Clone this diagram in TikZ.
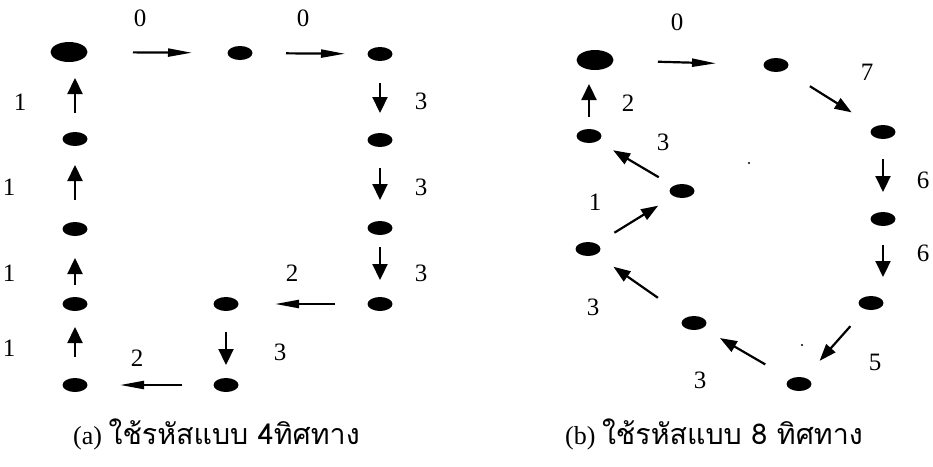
\documentclass[tikz,border=0pt]{standalone}
\usepackage{fontspec}
\setmainfont{Liberation Serif}
\newfontfamily\thaifont[Script=Thai,Scale=1.1]{Loma}
\usetikzlibrary{arrows.meta,shapes.geometric}
\begin{document}
\begin{tikzpicture}[x=1pt,y=-1pt,
  dot/.style={ellipse, fill=black, inner sep=0pt, minimum width=25pt, minimum height=14pt},
  bigdot/.style={dot, minimum width=37pt, minimum height=20pt},
  num/.style={font=\fontsize{25}{25}\selectfont, inner sep=0pt},
  captext/.style={font=\fontsize{26}{26}\selectfont, inner sep=0pt, anchor=west},
  harr/.style={line width=2.2pt, -{Triangle[length=24pt,width=8pt]}},
  varr/.style={line width=2.2pt, -{Triangle[length=16pt,width=15pt]}},
  darr/.style={line width=2.2pt, -{Triangle[length=17pt,width=12pt]}}]
\useasboundingbox (0,0) rectangle (933,466);

% ---------- (a) 4-direction chain code ----------
\node[bigdot] (a1) at (69,52) {};
\node[dot] (a2)  at (240,53) {};
\node[dot] (a3)  at (380,54) {};
\node[dot] (a4)  at (380,140) {};
\node[dot] (a5)  at (380,228) {};
\node[dot] (a6)  at (380,304) {};
\node[dot] (a7)  at (226,304) {};
\node[dot] (a8)  at (226,385) {};
\node[dot] (a9)  at (75,385) {};
\node[dot] (a10) at (75,304) {};
\node[dot] (a11) at (75,229) {};
\node[dot] (a12) at (75,139) {};

\draw[harr, shorten <=64pt, shorten >=48pt] (a1.center) -- (a2.center);
\draw[harr, shorten <=46pt, shorten >=35pt] (a2.center) -- (a3.center);
\draw[varr, shorten <=29pt, shorten >=27pt] (a3.center) -- (a4.center);
\draw[varr, shorten <=28pt, shorten >=28pt] (a4.center) -- (a5.center);
\draw[varr, shorten <=19pt, shorten >=24pt] (a5.center) -- (a6.center);
\draw[harr, shorten <=45pt, shorten >=49pt] (a6.center) -- (a7.center);
\draw[varr, shorten <=28pt, shorten >=20pt] (a7.center) -- (a8.center);
\draw[harr, shorten <=44pt, shorten >=45pt] (a8.center) -- (a9.center);
\draw[varr, shorten <=28pt, shorten >=23pt] (a9.center) -- (a10.center);
\draw[varr, shorten <=19pt, shorten >=29pt] (a10.center) -- (a11.center);
\draw[varr, shorten <=29pt, shorten >=26pt] (a11.center) -- (a12.center);
\draw[varr, shorten <=26pt, shorten >=26pt] (a12.center) -- (a12.center |- a1.center);

\node[num] (la1)  at (140,18)  {0};
\node[num] (la2)  at (303,18)  {0};
\node[num] (la3)  at (421,101) {3};
\node[num] (la4)  at (421,187) {3};
\node[num] (la5)  at (421,273) {3};
\node[num] (la6)  at (292,273) {2};
\node[num] (la7)  at (280,352) {3};
\node[num] (la8)  at (137,358) {2};
\node[num] (la9)  at (20,102)  {1};
\node[num] (la10) at (9,187)   {1};
\node[num] (la11) at (9,273)   {1};
\node[num] (la12) at (9,348)   {1};

\node[captext] (capa) at (73,434) {(a) {\thaifont ใช้รหัสแบบ 4ทิศทาง}};

% ---------- (b) 8-direction chain code ----------
\node[bigdot] (b1) at (595,60) {};
\node[dot] (b2)  at (776,65) {};
\node[dot] (b3)  at (883,132) {};
\node[dot] (b4)  at (883,219) {};
\node[dot] (b5)  at (871,303) {};
\node[dot] (b6)  at (799,384) {};
\node[dot] (b7)  at (694,323) {};
\node[dot] (b8)  at (588,249) {};
\node[dot] (b9)  at (682,191) {};
\node[dot] (b10) at (589,136) {};

\draw[harr, shorten <=63pt, shorten >=60pt] (b1.center) -- (b2.center);
\draw[darr, shorten <=40pt, shorten >=37pt] (b2.center) -- (b3.center);
\draw[varr, shorten <=27pt, shorten >=27pt] (b3.center) -- (b4.center);
\draw[varr, shorten <=26pt, shorten >=26pt] (b4.center) -- (b4.center |- b5.center);
\draw[darr, shorten <=31pt, shorten >=31pt] (b5.center) -- (b6.center);
\draw[darr, shorten <=39pt, shorten >=30pt] (b6.center) -- (b7.center);
\draw[darr, shorten <=44pt, shorten >=31pt] (b7.center) -- (b8.center);
\draw[darr, shorten <=31pt, shorten >=28pt] (b8.center) -- (b9.center);
\draw[darr, shorten <=27pt, shorten >=28pt] (b9.center) -- (b10.center);
\draw[varr, shorten <=19pt, shorten >=24pt] (b10.center) -- (b10.center |- b1.center);

\node[num] (lb1)  at (677,22)  {0};
\node[num] (lb2)  at (867,72)  {7};
\node[num] (lb3)  at (923,180) {6};
\node[num] (lb4)  at (923,253) {6};
\node[num] (lb5)  at (875,362) {5};
\node[num] (lb6)  at (700,380) {3};
\node[num] (lb7)  at (593,307) {3};
\node[num] (lb8)  at (595,202) {1};
\node[num] (lb9)  at (663,142) {3};
\node[num] (lb10) at (628,103) {2};

% stray specks
\fill (749,163) circle (1.2pt);
\fill (802,345) circle (1.2pt);

\node[captext] (capb) at (565,434) {(b) {\thaifont ใช้รหัสแบบ 8 ทิศทาง}};
\end{tikzpicture}
\end{document}
